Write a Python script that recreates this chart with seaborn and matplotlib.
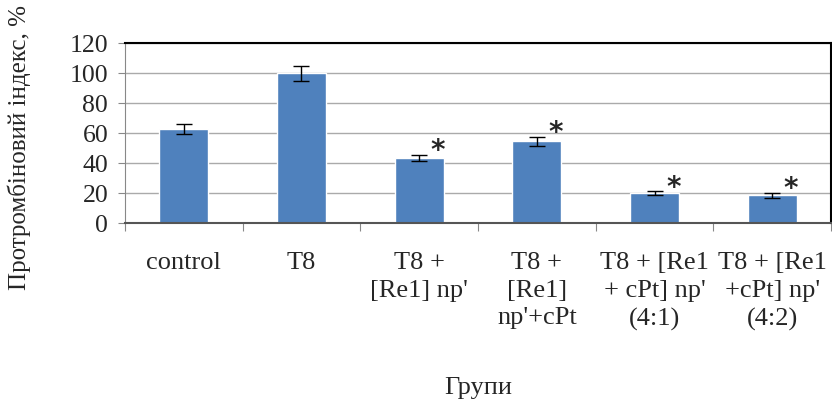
import seaborn as sns
import matplotlib.pyplot as plt
import pandas as pd
import numpy as np

# Дані
groups = ['control', 'T8', "T8 +\n[Re1] np'", "T8 +\n[Re1]\nnp'+cPt",
          "T8 + [Re1\n+ cPt] np'\n(4:1)", "T8 + [Re1\n+cPt] np'\n(4:2)"]
values = [62.5, 100.0, 43.4, 54.5, 19.8, 18.5]
errors = [3.3, 5.0, 2.0, 2.9, 1.4, 1.5]
significant = [False, False, True, True, True, True]

df = pd.DataFrame({'group': groups, 'value': values})

sns.set_style("white")
plt.rcParams['font.family'] = ['Liberation Serif', 'DejaVu Serif']

fig = plt.figure(figsize=(8.32, 4.07), dpi=100)
ax = fig.add_axes([0.150, 0.452, 0.849, 0.442])

sns.barplot(data=df, x='group', y='value', color='#4F81BD', saturation=1,
            width=0.415, ax=ax)
ax.errorbar(np.arange(len(values)), values, yerr=errors, fmt='none',
            ecolor='black', elinewidth=1, capsize=5.5, capthick=1, zorder=3)

# Зірочки
for i, (v, e, s) in enumerate(zip(values, errors, significant)):
    if s:
        ax.text(i + 0.16, v + e + 2.5, '*', fontsize=20, fontweight='bold',
                ha='center', va='center', family='DejaVu Sans')

ax.set_ylim(0, 120)
ax.set_xlim(-0.5, len(values) - 0.5)
ax.set_yticks(range(0, 121, 20))
ax.yaxis.grid(True, color='#AAAAAA', linewidth=1)
ax.set_axisbelow(True)

# Поділки між категоріями
ax.set_xticks(np.arange(-0.5, len(values), 1.0))
ax.set_xticklabels([])
ax.set_xticks(np.arange(len(values)), minor=True)
ax.set_xticklabels(groups, minor=True, fontsize=19, linespacing=1.33)
ax.tick_params(axis='x', which='major', length=6, color='#888888', direction='out', bottom=True)
ax.tick_params(axis='x', which='minor', length=0, pad=21)
ax.tick_params(axis='y', length=5, color='#888888', direction='out', left=True, labelsize=18.5, pad=7)

for side in ['top', 'right']:
    ax.spines[side].set_color('black')
    ax.spines[side].set_linewidth(1.5)
ax.spines['left'].set_color('#888888')
ax.spines['bottom'].set_color('#555555')
ax.spines['bottom'].set_linewidth(1.5)

ax.set_xlabel('Групи', fontsize=19)
ax.xaxis.set_label_coords(0.5, -0.855)
ax.set_ylabel('Протромбіновий індекс, %', fontsize=18, va='center')
ax.yaxis.set_label_coords(-0.149, 0.42)

fig.savefig('out.png', dpi=100)
